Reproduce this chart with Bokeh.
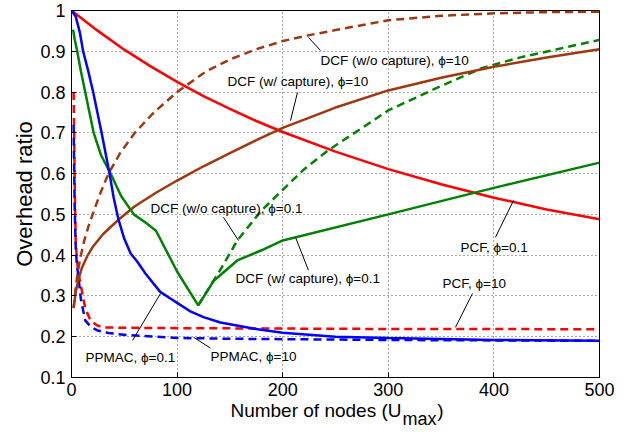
from bokeh.plotting import figure
from bokeh.models import Label, FixedTicker, CustomJSTickFormatter, Range1d, LinearAxis
from bokeh.embed import file_html
from bokeh.resources import INLINE

# ---------------- data ----------------
X_TICKS = [0, 100, 200, 300, 400, 500]
Y_TICKS = [0.1, 0.2, 0.3, 0.4, 0.5, 0.6, 0.7, 0.8, 0.9, 1.0]

# PCF, phi=0.1 (red solid)
pcf01_x = [0, 25, 50, 75, 100, 125, 150, 175, 200, 250, 300, 350, 400, 450, 500]
pcf01_y = [1.0, 0.95, 0.904, 0.863, 0.825, 0.79, 0.759, 0.729, 0.702, 0.654, 0.611, 0.574, 0.541, 0.512, 0.488]

# PCF, phi=10 (red dashed)
pcf10_x = [2, 2.5, 3, 4, 5.5, 7, 10, 13, 18, 24, 30, 50, 100, 200, 300, 400, 500]
pcf10_y = [0.80, 0.70, 0.58, 0.43, 0.38, 0.35, 0.31, 0.27, 0.24, 0.228, 0.223, 0.222, 0.221, 0.22, 0.219, 0.219, 0.218]

# PPMAC, phi=10 (blue dashed)
pp10_x = [2, 2.5, 3, 4, 5, 6.8, 9, 13, 18, 24, 35, 53, 100, 150, 200, 300, 400, 500]
pp10_y = [0.72, 0.62, 0.52, 0.42, 0.38, 0.34, 0.29, 0.24, 0.225, 0.216, 0.209, 0.204, 0.197, 0.195, 0.194, 0.192, 0.191, 0.19]

# PPMAC, phi=0.1 (blue solid)
pp01_x = [0, 4, 8, 11, 16, 20.5, 28.5, 36, 40, 44.5, 50, 56, 62, 70, 84, 94, 100, 112, 125, 141, 172, 200, 250, 300, 400, 500]
pp01_y = [1.0, 0.985, 0.945, 0.90, 0.85, 0.80, 0.70, 0.60, 0.54, 0.487, 0.44, 0.404, 0.385, 0.355, 0.31, 0.293, 0.283, 0.263, 0.248, 0.235, 0.22, 0.21, 0.20, 0.197, 0.192, 0.19]

# DCF (w/ capture), phi=0.1 (green solid)
dcfw01_x = [1.5, 3, 5.4, 9, 13, 17, 21, 28, 37, 47, 59, 70, 80, 100, 120, 135, 157, 180, 200, 300, 400, 500]
dcfw01_y = [0.953, 0.93, 0.90, 0.85, 0.80, 0.75, 0.70, 0.645, 0.60, 0.545, 0.50, 0.48, 0.46, 0.36, 0.277, 0.338, 0.387, 0.412, 0.436, 0.50, 0.565, 0.627]

# DCF (w/o capture), phi=0.1 (green dashed)
dcfwo01_x = [120, 140, 157, 180, 200, 220, 243, 274, 300, 350, 390, 425, 460, 500]
dcfwo01_y = [0.277, 0.36, 0.436, 0.51, 0.56, 0.61, 0.657, 0.71, 0.755, 0.815, 0.86, 0.885, 0.905, 0.928]

# DCF (w/ capture), phi=10 (brown solid)
dcfw10_x = [2, 4, 7, 10, 15, 20, 30, 45, 60, 80, 100, 125, 150, 175, 200, 250, 300, 350, 400, 450, 500]
dcfw10_y = [0.27, 0.31, 0.345, 0.37, 0.398, 0.42, 0.452, 0.488, 0.52, 0.553, 0.583, 0.618, 0.65, 0.682, 0.712, 0.762, 0.804, 0.835, 0.862, 0.885, 0.905]

# DCF (w/o capture), phi=10 (brown dashed)
dcfwo10_x = [2, 4, 6, 8.5, 12, 16, 20, 27, 35, 46, 60, 78, 100, 127, 150, 175, 200, 224, 250, 300, 350, 400, 450, 500]
dcfwo10_y = [0.27, 0.32, 0.36, 0.395, 0.435, 0.47, 0.50, 0.55, 0.60, 0.65, 0.70, 0.75, 0.80, 0.85, 0.88, 0.905, 0.925, 0.939, 0.952, 0.976, 0.987, 0.993, 0.996, 0.997]

# axis titles
Y_TITLE = "Overhead ratio"
X_TITLE_MAIN = ["Number of nodes (U", ")"]
X_TITLE_SUB = ["max"]

RED = "#ff0000"
BLUE = "#0000ff"
GREEN = "#008000"
BROWN = "#a0380f"
FONT = "Liberation Sans"

# ---------------- figure ----------------
p = figure(width=632, height=432, output_backend="svg", toolbar_location=None,
           title=None,
           x_range=Range1d(0, 500), y_range=Range1d(0.1, 1.0),
           min_border_left=71, min_border_right=33,
           min_border_top=10, min_border_bottom=55)
p.background_fill_color = "white"
p.border_fill_color = "white"
p.outline_line_color = "black"
p.outline_line_width = 1

for ax in (p.xaxis[0], p.yaxis[0]):
    ax.axis_line_color = "black"
    ax.major_tick_in = 5
    ax.major_tick_out = 0
    ax.minor_tick_line_color = None
    ax.major_tick_line_color = "black"
    ax.major_label_text_font = FONT
    ax.major_label_text_font_size = "18px"
    ax.major_label_text_color = "black"

p.xaxis[0].ticker = FixedTicker(ticks=X_TICKS)
p.yaxis[0].ticker = FixedTicker(ticks=Y_TICKS)
p.yaxis[0].formatter = CustomJSTickFormatter(
    code="return (Math.abs(tick - 1) < 1e-9) ? '1' : tick.toFixed(1);")
p.xaxis[0].major_label_standoff = 5
p.yaxis[0].major_label_standoff = 6

# y title
p.yaxis[0].axis_label = Y_TITLE
p.yaxis[0].axis_label_text_font = FONT
p.yaxis[0].axis_label_text_font_size = "22px"
p.yaxis[0].axis_label_text_font_style = "normal"
p.yaxis[0].axis_label_text_color = "black"
p.yaxis[0].axis_label_standoff = 0

# x title: main text and subscript drawn as tick labels of unlabeled helper axes
def helper_axis(ticks, texts, size, standoff):
    ax = LinearAxis(ticker=FixedTicker(ticks=ticks),
                    formatter=CustomJSTickFormatter(
                        args=dict(texts=texts),
                        code="return texts[index];"))
    ax.axis_line_color = None
    ax.major_tick_line_color = None
    ax.minor_tick_line_color = None
    ax.major_tick_in = 0
    ax.major_tick_out = 0
    ax.major_label_standoff = standoff
    ax.major_label_text_font = FONT
    ax.major_label_text_font_size = size
    ax.major_label_text_color = "black"
    return ax

# centres (data units) of the pieces of the x title
p.add_layout(helper_axis([231.5, 349.4], X_TITLE_MAIN, "19px", 1), "below")
p.add_layout(helper_axis([329.5], X_TITLE_SUB, "18px", -15), "below")

p.xgrid[0].ticker = FixedTicker(ticks=X_TICKS)
p.ygrid[0].ticker = FixedTicker(ticks=Y_TICKS)
for g in (p.xgrid[0], p.ygrid[0]):
    g.grid_line_color = "#555555"
    g.grid_line_dash = "1 3"
    g.grid_line_width = 1

LW = 2.5
DASH = "8 5"
p.line(pcf10_x, pcf10_y, line_color=RED, line_width=LW, line_dash=DASH)
p.line(pp10_x, pp10_y, line_color=BLUE, line_width=LW, line_dash=DASH)
p.line(dcfwo10_x, dcfwo10_y, line_color=BROWN, line_width=LW, line_dash=DASH)
p.line(dcfwo01_x, dcfwo01_y, line_color=GREEN, line_width=LW, line_dash=DASH)
p.line(pcf01_x, pcf01_y, line_color=RED, line_width=LW)
p.line(dcfw10_x, dcfw10_y, line_color=BROWN, line_width=LW)
p.line(dcfw01_x, dcfw01_y, line_color=GREEN, line_width=LW)
p.line(pp01_x, pp01_y, line_color=BLUE, line_width=LW)

# ---------------- annotations ----------------
ann_text = ["DCF (w/o capture),  \u03d5=10", "DCF (w/ capture),  \u03d5=10",
            "DCF (w/o capture),  \u03d5=0.1", "DCF (w/ capture),  \u03d5=0.1",
            "PCF, \u03d5=0.1", "PCF, \u03d5=10", "PPMAC, \u03d5=0.1", "PPMAC, \u03d5=10"]
ann_x = [235.8, 147.7, 74.8, 155.3, 368.4, 351.3, 13.3, 131.6]
ann_y = [0.877, 0.827, 0.515, 0.343, 0.419, 0.331, 0.150, 0.152]
ptr_x0 = [224.4, 214.0, 143.9, 212.1, 418.6, 379.7, 84.3, 115.5]
ptr_y0 = [0.934, 0.799, 0.493, 0.444, 0.534, 0.306, 0.306, 0.199]
ptr_x1 = [235.8, 207.4, 158.1, 224.4, 401.5, 363.6, 57.8, 131.6]
ptr_y1 = [0.902, 0.730, 0.436, 0.363, 0.444, 0.223, 0.191, 0.172]

p.segment(x0=ptr_x0, y0=ptr_y0, x1=ptr_x1, y1=ptr_y1, line_color="black", line_width=1)
for t, x, y in zip(ann_text, ann_x, ann_y):
    p.add_layout(Label(x=x, y=y, text=t, text_font=FONT, text_font_size="13.5px",
                       text_align="left", text_baseline="middle", text_color="black"))

open("out.html", "w").write(file_html(p, INLINE))
